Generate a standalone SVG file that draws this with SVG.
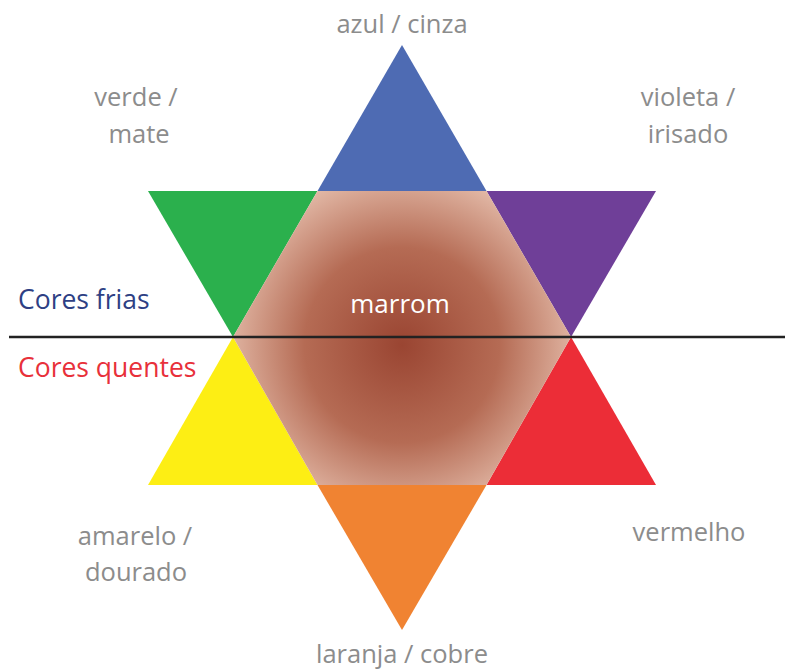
<svg xmlns="http://www.w3.org/2000/svg" width="785" height="669" viewBox="0 0 785 669">
<defs>
<radialGradient id="brown" cx="402" cy="345" r="195" gradientUnits="userSpaceOnUse">
<stop offset="0" stop-color="#9a4532"/>
<stop offset="0.5" stop-color="#b56b54"/>
<stop offset="1" stop-color="#edcbba"/>
</radialGradient>
<style>
.lbl{font-family:"Open Sans","Noto Sans",sans-serif;font-size:25.5px;fill:#8c8c8c;text-anchor:middle}
.side{font-family:"Open Sans","Noto Sans",sans-serif;font-size:26.5px}
</style>
</defs>
<rect width="785" height="669" fill="#ffffff"/>
<g id="tri-blue"><polygon points="402,45 317.5,191 486.5,191" fill="#4e6bb3"/></g>
<g id="tri-green"><polygon points="148,191 317.5,191 233,337" fill="#2bb04d"/></g>
<g id="tri-purple"><polygon points="486.5,191 656,191 571,337" fill="#6f3f98"/></g>
<g id="tri-yellow"><polygon points="233,337 317.5,485 148,485" fill="#fdee14"/></g>
<g id="tri-red"><polygon points="571,337 656,485 486.5,485" fill="#ec2d37"/></g>
<g id="tri-orange"><polygon points="317.5,485 486.5,485 402,630" fill="#f08332"/></g>
<g id="hexagon"><polygon points="317.5,191 486.5,191 571,337 486.5,485 317.5,485 233,337" fill="url(#brown)"/>
<text x="400" y="313" class="lbl" style="fill:#ffffff;font-size:26px">marrom</text></g>
<g id="connectors"><line x1="9" y1="337" x2="785" y2="337" stroke="#222222" stroke-width="2.5"/></g>
<g id="labels">
<text x="402" y="33" class="lbl">azul / cinza</text>
<text x="136" y="106" class="lbl">verde /</text>
<text x="139" y="143" class="lbl">mate</text>
<text x="688" y="106" class="lbl">violeta /</text>
<text x="688" y="143" class="lbl">irisado</text>
<text x="135" y="545" class="lbl">amarelo /</text>
<text x="136" y="581" class="lbl">dourado</text>
<text x="689" y="541" class="lbl">vermelho</text>
<text x="402" y="663" class="lbl">laranja / cobre</text>
<text x="18" y="309" class="side" fill="#2e3f84">Cores frias</text>
<text x="18" y="377" class="side" fill="#e8303a">Cores quentes</text>
</g>
</svg>
